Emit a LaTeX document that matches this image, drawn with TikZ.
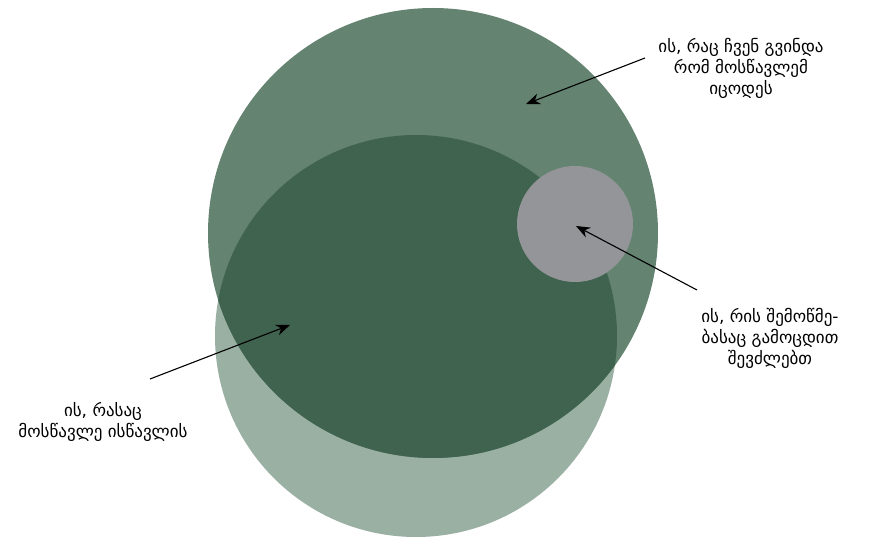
\documentclass[tikz,border=0pt]{standalone}
\usepackage{fontspec}
\newfontfamily\kafont{DejaVu Sans}
\usetikzlibrary{arrows.meta}
\definecolor{outergreen}{HTML}{648371}
\definecolor{innergreen}{HTML}{40634F}
\definecolor{palegreen}{HTML}{9AB0A3}
\definecolor{examgrey}{HTML}{949599}
\tikzset{
  note/.style={align=center,font=\kafont\fontsize{17}{21}\selectfont,text=black},
  pointer/.style={-{Stealth[length=14pt,width=11pt]},line width=1.1pt,black}
}

\begin{document}
\begin{tikzpicture}[x=1pt,y=-1pt]
  \useasboundingbox (0,0) rectangle (879,537);
  % circles
  \fill[palegreen] (416,336) circle (201);
  \fill[outergreen] (433,233) circle (225);
  \begin{scope}
    \clip (416,336) circle (201);
    \fill[innergreen] (433,233) circle (225);
  \end{scope}
  \fill[examgrey] (575,224) circle (58);
  % labels
  \node[note] (want) at (741,68) {ის, რაც ჩვენ გვინდა\\რომ მოსწავლემ\\იცოდეს};
  \node[note] (exam) at (770,338) {ის, რის შემოწმე-\\ბასაც გამოცდით\\შევძლებთ};
  \node[note] (learn) at (103,422) {ის, რასაც\\მოსწავლე ისწავლის};
  \coordinate (wantfrom) at (645,58);
  \coordinate (wantto) at (526,104);
  \coordinate (examfrom) at (697,290);
  \coordinate (examto) at (576,226);
  \coordinate (learnfrom) at (150,379);
  \coordinate (learnto) at (290,325);
  \draw[pointer] (wantfrom) -- (wantto);
  \draw[pointer] (examfrom) -- (examto);
  \draw[pointer] (learnfrom) -- (learnto);
\end{tikzpicture}
\end{document}
